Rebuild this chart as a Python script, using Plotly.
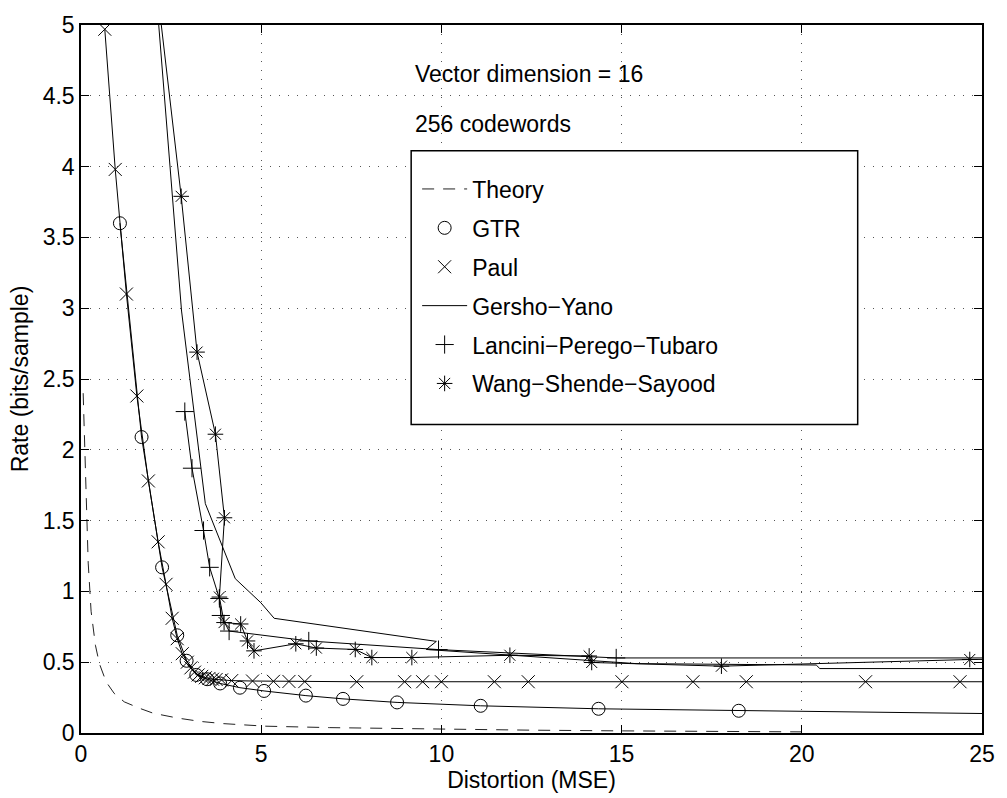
import plotly.graph_objects as go

# Rate-distortion curves, vector dimension 16, 256 codewords
theory_x = [0.06, 0.1, 0.14, 0.2, 0.28, 0.4, 0.51, 0.7, 0.92, 1.2, 1.61, 2.0, 2.67, 3.3, 3.96,
            5.13, 6.9, 8.5, 10.0, 12.5, 15.0, 17.5, 20.0]
theory_y = [2.4, 2.05, 1.63, 1.2, 0.86, 0.62, 0.49, 0.36, 0.28, 0.22, 0.176, 0.14, 0.106, 0.082, 0.066,
            0.048, 0.038, 0.032, 0.027, 0.02, 0.015, 0.011, 0.008]

gtr_x = [1.08, 1.68, 2.25, 2.67, 2.93, 3.2, 3.5, 3.86, 4.41, 5.08, 6.24, 7.27, 8.77, 11.09, 14.36, 18.25, 30.0]
gtr_y = [3.60, 2.09, 1.17, 0.69, 0.51, 0.41, 0.38, 0.35, 0.32, 0.297, 0.264, 0.241, 0.216, 0.192, 0.171, 0.157, 0.122]

paul_x = [0.66, 0.95, 1.26, 1.55, 1.87, 2.14, 2.36, 2.53, 2.67, 2.81, 2.95, 3.05, 3.15, 3.25, 3.35,
          3.45, 3.55, 3.65, 3.75, 3.9, 4.18, 4.76, 5.34, 5.77, 6.21, 7.65, 8.98, 9.48, 10.0, 11.47,
          12.41, 15.01, 16.98, 18.46, 21.77, 24.39, 30.0]
paul_y = [4.97, 3.98, 3.10, 2.38, 1.78, 1.35, 1.05, 0.81, 0.666, 0.56, 0.50, 0.46, 0.43, 0.41, 0.40,
          0.39, 0.385, 0.38, 0.378, 0.375, 0.37, 0.367, 0.365, 0.364, 0.363, 0.362, 0.362, 0.362, 0.362, 0.362,
          0.362, 0.362, 0.362, 0.362, 0.362, 0.362, 0.362]

gy_x = [2.0, 2.79, 3.45, 4.28, 4.99, 5.36, 9.86, 9.58, 15.4, 20.4, 20.5, 30.0]
gy_y = [5.5, 2.98, 1.62, 1.09, 0.92, 0.81, 0.647, 0.59, 0.49, 0.48, 0.455, 0.455]

lpt_x = [2.88, 3.08, 3.40, 3.57, 3.84, 3.88, 4.11, 6.32, 9.92, 14.85, 30.0]
lpt_y = [2.27, 1.87, 1.43, 1.17, 0.95, 0.83, 0.72, 0.65, 0.589, 0.53, 0.53]

wss_x = [2.0, 2.78, 3.22, 3.73, 3.98, 3.84, 3.97, 4.43, 4.62, 4.80, 5.96, 6.53, 7.61, 8.07, 9.18,
         11.9, 14.1, 14.17, 17.77, 24.66, 30.0]
wss_y = [5.5, 3.79, 2.69, 2.11, 1.52, 0.96, 0.78, 0.77, 0.65, 0.58, 0.63, 0.60, 0.59, 0.533, 0.533,
         0.549, 0.544, 0.498, 0.472, 0.519, 0.53]

x_ticks = [0, 5, 10, 15, 20, 25]
y_ticks = [0, 0.5, 1, 1.5, 2, 2.5, 3, 3.5, 4, 4.5, 5]

FONT = "Liberation Sans, Arial, Helvetica, sans-serif"
INK = "black"
MSIZE = 13

fig = go.Figure()


def add_series(name, xs, ys, symbol=None, dash="solid", color=INK):
    # connecting line (shown in the legend only for the line-style series)
    fig.add_trace(go.Scatter(
        x=xs, y=ys, name=name, mode="lines",
        line=dict(color=color, width=1, dash=dash),
        legendgroup=name, showlegend=symbol is None, hoverinfo="skip",
    ))
    if symbol:
        fig.add_trace(go.Scatter(
            x=xs, y=ys, name=name, mode="markers",
            marker=dict(symbol=symbol, size=MSIZE, color=INK,
                        line=dict(color=INK, width=1)),
            legendgroup=name, showlegend=True,
        ))


add_series("Theory", theory_x, theory_y, dash="12px,9px", color="#222")
add_series("GTR", gtr_x, gtr_y, symbol="circle-open")
add_series("Paul", paul_x, paul_y, symbol="x-thin-open")
add_series("Gersho\u2212Yano", gy_x, gy_y)
add_series("Lancini\u2212Perego\u2212Tubaro", lpt_x, lpt_y, symbol="cross-thin-open")
add_series("Wang\u2212Shende\u2212Sayood", wss_x, wss_y, symbol="asterisk-open")

axis_common = dict(
    showline=True, linecolor=INK, linewidth=1.5, mirror="allticks",
    ticks="inside", ticklen=8, tickcolor=INK, tickwidth=1,
    showgrid=True, gridcolor="#555", griddash="1px,8px", gridwidth=1,
    zeroline=False, tickfont=dict(family=FONT, size=23, color=INK),
    title_font=dict(family=FONT, size=23, color=INK),
)

fig.update_xaxes(range=[0, 25], tickvals=x_ticks, ticktext=[str(v) for v in x_ticks],
                 title_text="Distortion (MSE)", title_standoff=2, **axis_common)
fig.update_yaxes(range=[0, 5], tickvals=y_ticks, ticktext=[f"{v:g}" for v in y_ticks],
                 title_text="Rate (bits/sample)", title_standoff=8, **axis_common)

fig.add_annotation(x=9.2, y=4.654, xref="x", yref="y", text="Vector dimension = 16",
                   showarrow=False, xanchor="left", yanchor="middle",
                   font=dict(family=FONT, size=23, color=INK))
fig.add_annotation(x=9.2, y=4.30, xref="x", yref="y", text="256 codewords",
                   showarrow=False, xanchor="left", yanchor="middle",
                   font=dict(family=FONT, size=23, color=INK))

# legend frame
fig.add_shape(type="rect", xref="paper", yref="paper",
              x0=(413 - 81) / 906, x1=(862 - 81) / 906,
              y0=(733.5 - 421.7) / 715.5, y1=(733.5 - 145) / 715.5,
              line=dict(color=INK, width=1.5), fillcolor="white", layer="above")

fig.update_layout(
    width=1007, height=798,
    margin=dict(l=81, r=20, t=18, b=64.5),
    paper_bgcolor="white", plot_bgcolor="white",
    font=dict(family=FONT, size=23, color=INK),
    showlegend=True,
    legend=dict(
        x=(419 - 81) / 906, y=(733.5 - 162) / 715.5, xanchor="left", yanchor="top",
        bgcolor="rgba(0,0,0,0)", borderwidth=0,
        font=dict(family=FONT, size=23, color=INK),
        itemwidth=45, traceorder="grouped", tracegroupgap=6,
    ),
)

fig.write_html("out.html")
